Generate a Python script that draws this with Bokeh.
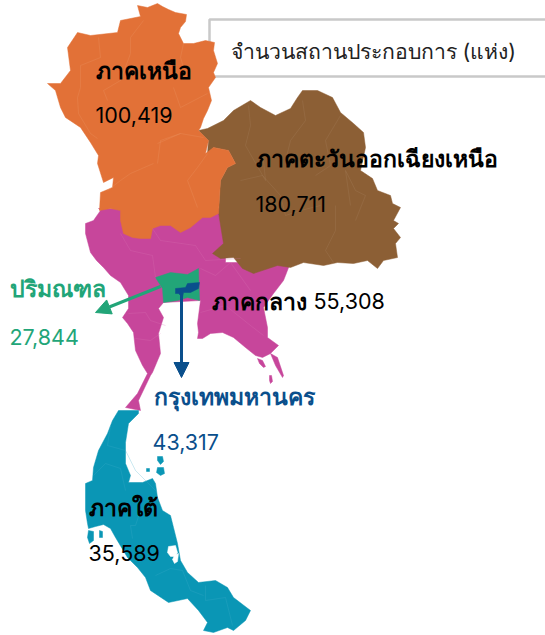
from bokeh.plotting import figure
from bokeh.models import Arrow, NormalHead
from bokeh.core.properties import value
from bokeh.embed import file_html
from bokeh.resources import INLINE

# Region outlines (map units)
CENTRAL_X = [98,225,225,290,285,283,273,263,267,267,278,270,262,255,245,233,222,210,202,197,198,197,200,163,158,163,158,160,152,150,138,140,125,137,147,142,135,133,127,122,128,128,120,110,103,96,90,85,85,93,100]
CENTRAL_Y = [208,208,262,262,275,280,293,307,327,337,345,353,357,355,347,337,332,333,338,338,332,323,300,302,308,317,333,353,372,375,400,410,407,393,373,365,350,332,323,317,308,295,282,275,267,260,252,233,223,220,210]
TRAT_X = [270,277,283,282,275]
TRAT_Y = [353,357,375,377,365]
ISLE1_X = [257,262,265,263,259]
ISLE1_Y = [358,360,366,367,363]
ISLE2_X = [269,271,272,270,269]
ISLE2_Y = [375,375,381,383,380]
NORTH_X = [157,162,168,175,186,185,180,178,183,193,205,214,213,217,213,215,208,211,207,203,200,198,208,205,213,228,235,227,220,218,210,202,190,180,170,160,152,150,140,132,123,120,120,110,99,100,112,113,103,97,98,90,80,65,60,55,47,60,70,67,77,90,117,120,140,137,147]
NORTH_Y = [3,6,9,12,14,21,27,33,43,43,40,42,50,63,72,77,87,100,110,118,127,130,140,153,147,150,163,167,180,213,217,217,227,232,225,225,228,238,238,237,233,220,210,208,210,192,187,177,182,163,155,142,127,117,107,90,83,83,70,47,32,35,32,20,16,5,7]
NE_X = [302,317,332,340,353,363,365,360,372,377,390,392,400,393,398,393,400,395,397,383,377,367,353,337,323,303,290,277,253,242,233,220,212,223,218,220,227,235,228,213,207,208,198,207,223,233,250,260,275,290,297]
NE_Y = [90,90,97,112,123,132,147,170,178,190,195,203,207,220,223,228,237,243,257,260,268,260,263,262,265,262,267,265,273,268,257,258,253,243,212,180,167,163,150,147,153,140,130,128,120,110,100,107,115,108,97]
VICINITY_X = [155,170,187,198,199,187,177,163,162]
VICINITY_Y = [277,272,274,268,300,297,300,302,288]
BANGKOK_X = [175,185,187,199,198,190,183,182,178,175]
BANGKOK_Y = [288,287,283,282,288,292,292,297,293,293]
SOUTH_X = [118,138,138,128,125,125,130,128,142,152,155,157,162,170,173,177,180,187,198,215,227,233,250,245,233,227,213,203,207,198,187,168,150,145,137,127,115,110,103,95,88,87,85,85,92,93,98,107,112]
SOUTH_Y = [410,410,413,423,442,463,475,482,482,478,483,497,510,515,527,543,560,572,582,580,587,597,610,620,630,627,632,630,622,610,598,602,590,577,567,557,537,528,524,526,528,523,510,483,480,467,450,433,420]
PHUKET_X = [88,93,93,89,87]
PHUKET_Y = [530,531,540,543,537]
PHANG_X = [99,102,102,99]
PHANG_Y = [530,531,537,537]
SAMUI1_X = [157,162,163,160,157]
SAMUI1_Y = [456,456,461,464,460]
SAMUI2_X = [157,163,164,160,156]
SAMUI2_Y = [467,467,473,475,472]
SAMUI3_X = [146,149,149,146]
SAMUI3_Y = [468,468,471,471]
LAKE1_X = [168,175,177,175,170,167]
LAKE1_Y = [546,545,552,556,556,552]
LAKE2_X = [174,178,177,174,172]
LAKE2_Y = [555,553,561,563,559]

REGION_COLORS = {"central": "#C7469B", "north": "#E27137", "ne": "#8C5F35",
                 "vicinity": "#22A578", "bangkok": "#0A4F8C", "south": "#0A96B5"}

# Province borders (map units)
NORTH_BORDERS = [
    ([98,100,80,80,77,78,90,97],[37,57,65,87,97,113,133,138]),
    ([143,130,130,120,103,107],[20,37,53,80,90,100]),
    ([183,180,183],[43,57,67]),
    ([207,180,173],[93,107,87]),
    ([157,180,203],[143,133,137]),
    ([207,197,187,197],[153,167,180,207]),
    ([153,130,120,107],[163,173,180,190]),
    ([180,160,157],[133,140,163]),
]
NE_BORDERS = [
    ([248,250,245,265,263],[105,125,145,180,160]),
    ([302,305,290,285],[100,120,140,160]),
    ([340,325,330,315],[115,140,165,175]),
    ([350,345,355,365,355],[205,170,190,195,220]),
    ([240,262,280,285,300,320],[180,175,195,215,210,205]),
    ([335,335,325,333],[205,230,250,262]),
]
CENTRAL_BORDERS = [
    ([120,130,152,155],[233,250,255,277]),
    ([152,160,195,205,240],[228,240,245,260,258]),
    ([200,215,230,250],[268,275,262,290]),
    ([200,225,250,263],[312,305,325,335]),
    ([128,145,150,165],[313,312,320,325]),
    ([135,150,160],[338,340,333]),
]
SOUTH_BORDERS = [
    ([93,105,120,125],[475,463,468,490]),
    ([110,107,125,135,155],[425,445,450,470,490]),
    ([140,135,130,132],[510,525,525,538]),
    ([155,170,182,190,203],[575,568,570,590,595]),
    ([205,205,225,232],[585,600,597,625]),
]
BORDER_COLORS = ["#EE9B68", "#A88460", "#D873B5", "#3FAECB"]

# Label texts
NORTH_NAME, NORTH_COUNT = "ภาคเหนือ", "100,419"
NE_NAME, NE_COUNT = "ภาคตะวันออกเฉียงเหนือ", "180,711"
VICINITY_NAME, VICINITY_COUNT = "ปริมณฑล", "27,844"
CENTRAL_NAME, CENTRAL_COUNT = "ภาคกลาง", "55,308"
BANGKOK_NAME, BANGKOK_COUNT = "กรุงเทพมหานคร", "43,317"
SOUTH_NAME, SOUTH_COUNT = "ภาคใต้", "35,589"
LEGEND_TEXT = "จำนวนสถานประกอบการ (แห่ง)"

FONT = "Inter"

p = figure(width=545, height=635, x_range=(0, 545), y_range=(635, 0),
           output_backend="svg", toolbar_location=None, min_border=0,
           background_fill_color="white")
p.axis.visible = False
p.grid.visible = False
p.outline_line_color = None

# Legend box (open on the right, under the map)
p.rect(x=[380], y=[47.5], width=[342], height=[57], fill_color="white",
       line_color="#C9C9C9", line_width=2.5)

def region(xs, ys, color):
    p.patches(xs=xs, ys=ys, fill_color=color, line_color=color, line_width=0.5)

region([CENTRAL_X, TRAT_X, ISLE1_X, ISLE2_X], [CENTRAL_Y, TRAT_Y, ISLE1_Y, ISLE2_Y], REGION_COLORS["central"])
region([NE_X], [NE_Y], REGION_COLORS["ne"])
region([NORTH_X], [NORTH_Y], REGION_COLORS["north"])
region([VICINITY_X], [VICINITY_Y], REGION_COLORS["vicinity"])
region([BANGKOK_X], [BANGKOK_Y], REGION_COLORS["bangkok"])
region([SOUTH_X, PHUKET_X, PHANG_X, SAMUI1_X, SAMUI2_X, SAMUI3_X],
       [SOUTH_Y, PHUKET_Y, PHANG_Y, SAMUI1_Y, SAMUI2_Y, SAMUI3_Y], REGION_COLORS["south"])
p.patches(xs=[LAKE1_X, LAKE2_X], ys=[LAKE1_Y, LAKE2_Y], fill_color="white", line_color="white", line_width=0.5)

for borders, col in zip([NORTH_BORDERS, NE_BORDERS, CENTRAL_BORDERS, SOUTH_BORDERS], BORDER_COLORS):
    p.multi_line(xs=[b[0] for b in borders], ys=[b[1] for b in borders], line_color=col, line_width=0.6, line_alpha=0.45)

p.add_layout(Arrow(end=NormalHead(size=15, fill_color=REGION_COLORS["vicinity"], line_color=REGION_COLORS["vicinity"]),
                   x_start=160, y_start=286, x_end=95, y_end=312,
                   line_color=REGION_COLORS["vicinity"], line_width=3))
p.add_layout(Arrow(end=NormalHead(size=15, fill_color=REGION_COLORS["bangkok"], line_color=REGION_COLORS["bangkok"]),
                   x_start=181, y_start=294, x_end=181, y_end=377,
                   line_color=REGION_COLORS["bangkok"], line_width=3))

def label(x, y, t, color="black", style="normal", size="21.5px"):
    p.text(x=[x], y=[y], text=[t], text_color=color, text_font=value(FONT),
           text_font_size=size, text_font_style=style, text_align="left", text_baseline="middle")

label(230, 50, LEGEND_TEXT, "#222222", size="21.2px")
label(95, 70, NORTH_NAME, style="bold", size="23px")
label(95, 114, NORTH_COUNT)
label(255, 158, NE_NAME, style="bold", size="23px")
label(255, 203, NE_COUNT)
label(9, 288, VICINITY_NAME, REGION_COLORS["vicinity"], "bold", "23px")
label(9, 336, VICINITY_COUNT, REGION_COLORS["vicinity"])
label(211, 301, CENTRAL_NAME, style="bold", size="23px")
label(313, 300, CENTRAL_COUNT)
label(153, 396, BANGKOK_NAME, REGION_COLORS["bangkok"], "bold", "23px")
label(152, 441, BANGKOK_COUNT, REGION_COLORS["bangkok"])
label(88, 507, SOUTH_NAME, style="bold", size="23px")
label(88, 552, SOUTH_COUNT)

open("out.html", "w").write(file_html(p, INLINE))
